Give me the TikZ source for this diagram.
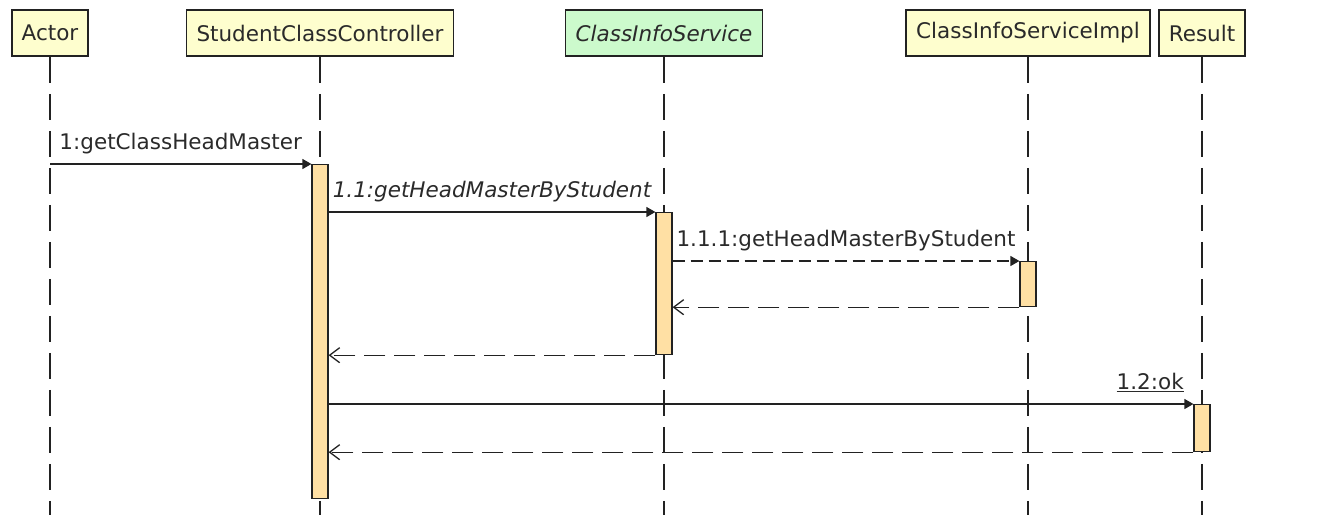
\documentclass[tikz,border=0pt]{standalone}
\usepackage{fontspec}
\setmainfont{DejaVu Sans}
\usepackage{tikz}
\usetikzlibrary{arrows.meta}
\definecolor{boxyellow}{HTML}{FEFECE}
\definecolor{boxgreen}{HTML}{CCFACC}
\definecolor{barfill}{HTML}{FFE0A4}
\definecolor{linegray}{HTML}{222222}
\definecolor{textgray}{HTML}{2A2A2A}
\begin{document}
\begin{tikzpicture}[x=1pt, y=-1pt,
    every node/.style = {font=\fontsize{21.5}{25}\selectfont, text=textgray},
    obj/.style = {draw=linegray, line width=1.6pt, fill=boxyellow, minimum height=46pt, inner xsep=10pt},
    bar/.style = {draw=linegray, line width=1.2pt, fill=barfill, minimum width=16pt, anchor=north, inner sep=0pt},
    lifeline/.style = {draw=linegray, line width=1.5pt, dash pattern=on 26pt off 11pt},
    call/.style = {draw=linegray, -{Triangle[length=9pt, width=10pt]}, line width=1.3pt},
    reply/.style = {draw=linegray, -{Straight Barb[length=10pt, width=15pt]}, line width=1.3pt, dash pattern=on 21pt off 9pt},
    msg/.style = {above=8pt, text depth=0.25em, inner sep=3pt}]
        \useasboundingbox (0,0) rectangle (1342,520);
        \node[obj] (actor) at (50,33) {Actor};
        \node[obj] (scc) at (320,33) {StudentClassController};
        \node[obj, fill=boxgreen] (cis) at (664,33) {\itshape ClassInfoService};
        \node[obj] (impl) at (1028,33) {ClassInfoServiceImpl};
        \node[obj] (result) at (1202,33) {Result};
        \coordinate (end) at (0,515);
        \foreach \n in {actor, scc, cis, impl, result}
            \draw[lifeline] (\n) -- (\n |- end);
        % activation bars
        \node[bar, minimum height=334pt] (act1) at (320,164) {};
        \node[bar, minimum height=142pt] (act2) at (664,212) {};
        \node[bar, minimum height=45pt] (act3) at (1028,261) {};
        \node[bar, minimum height=47pt] (act4) at (1202,404) {};
        % messages
        \draw[call] (actor |- act1.north) -- node[msg]{1:getClassHeadMaster} (act1.north west);
        \draw[call] (act1.east |- act2.north) -- node[msg]{\itshape 1.1:getHeadMasterByStudent} (act2.north west);
        \draw[call, dash pattern=on 12pt off 6pt] (act2.east |- act3.north) -- node[msg]{1.1.1:getHeadMasterByStudent} (act3.north west);
        \draw[reply] (act3.south west) -- (act2.east |- act3.south);
        \draw[reply] (act2.south west) -- (act1.east |- act2.south);
        \draw[call] (act1.east |- act4.north) -- node[msg, pos=1, anchor=south east, xshift=-6pt]{\underline{1.2:ok}} (act4.north west);
        \draw[reply] (act4.south west) -- (act1.east |- act4.south);
    \end{tikzpicture}
\end{document}
